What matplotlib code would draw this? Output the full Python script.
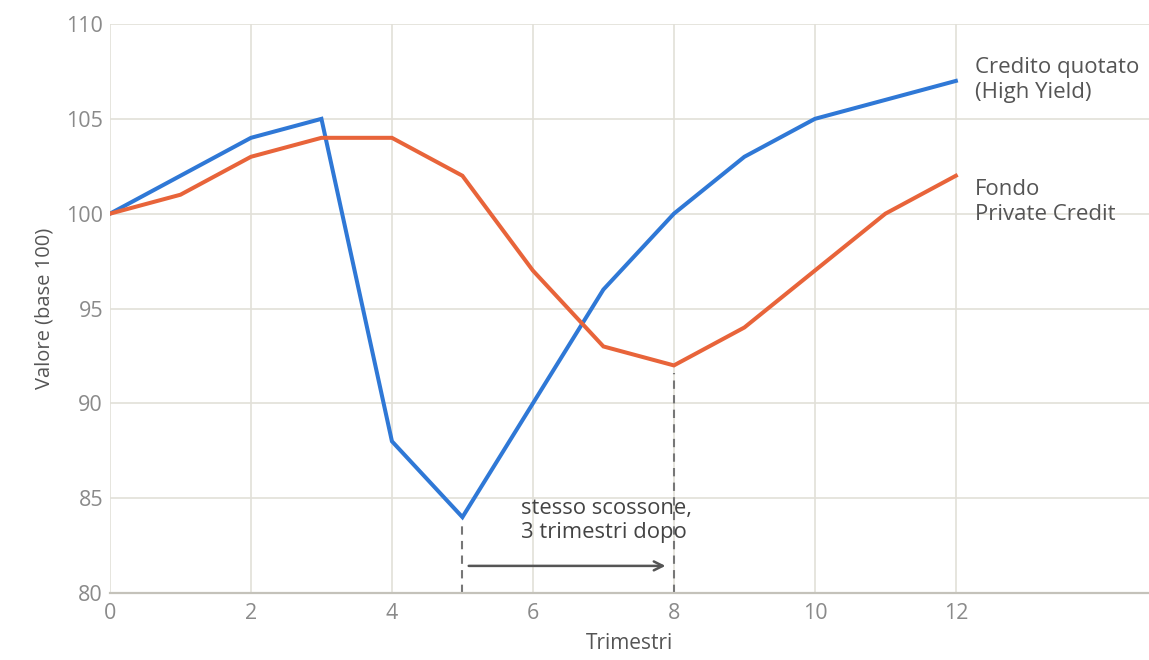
import matplotlib
matplotlib.use("Agg")
import matplotlib.pyplot as plt

quarters = list(range(13))
high_yield = [100, 102, 104, 105, 88, 84, 90, 96, 100, 103, 105, 106, 107]
private_credit = [100, 101, 103, 104, 104, 102, 97, 93, 92, 94, 97, 100, 102]
x_ticks = [0, 2, 4, 6, 8, 10, 12]
y_ticks = [80, 85, 90, 95, 100, 105, 110]
label_hy = "Credito quotato\n(High Yield)"
label_pc = "Fondo\nPrivate Credit"
annot_text = "stesso scossone,\n3 trimestri dopo"

plt.rcParams['font.family'] = ['Open Sans', 'DejaVu Sans']

fig = plt.figure(figsize=(11.49, 6.6), dpi=100)
ax = fig.add_axes([0.0957, 0.1015, 1 - 0.0957, 0.9636 - 0.1015])

blue = "#2f78d6"
orange = "#e8643a"
ax.plot(quarters, high_yield, color=blue, lw=2.9, solid_joinstyle='miter', zorder=3)
ax.plot(quarters, private_credit, color=orange, lw=2.9, solid_joinstyle='miter', zorder=3)

ax.set_xlim(0, 14.74)
ax.set_ylim(80, 110)
ax.set_xticks(x_ticks)
ax.set_yticks(y_ticks)
ax.grid(True, color="#e2e0d8", lw=1.2)
ax.set_axisbelow(True)
for s in ['top', 'right', 'left']:
    ax.spines[s].set_visible(False)
ax.spines['bottom'].set_color("#c4c2ba")
ax.spines['bottom'].set_linewidth(1.6)
ax.tick_params(axis='both', length=0, labelsize=15.5, labelcolor="#8a8a8a")
ax.tick_params(axis='x', pad=7)
ax.tick_params(axis='y', pad=5)
ax.set_xlabel("Trimestri", fontsize=15, color="#555555", labelpad=7)
ax.set_ylabel("Valore (base 100)", fontsize=14.5, color="#555555", labelpad=8)

# dashed verticals
i5 = quarters.index(5)
i8 = quarters.index(8)
ax.plot([5, 5], [80, high_yield[i5] - 0.4], ls=(0, (4, 3)), color="#777777", lw=1.5, zorder=2)
ax.plot([8, 8], [80, private_credit[i8] - 0.4], ls=(0, (4, 3)), color="#777777", lw=1.5, zorder=2)

ax.annotate("", xy=(7.92, 81.43), xytext=(5.05, 81.43),
            arrowprops=dict(arrowstyle="->", color="#555555", lw=1.8, mutation_scale=16))
ax.text(5.83, 85.0, annot_text, fontsize=15.8, color="#444444", va='top', ha='left', linespacing=1.2)

ax.text(12.27, 107.05, label_hy, fontsize=16, color="#555555", va='center', ha='left', linespacing=1.3)
ax.text(12.27, 100.6, label_pc, fontsize=16, color="#555555", va='center', ha='left', linespacing=1.25)

fig.savefig("out.png", dpi=100)
